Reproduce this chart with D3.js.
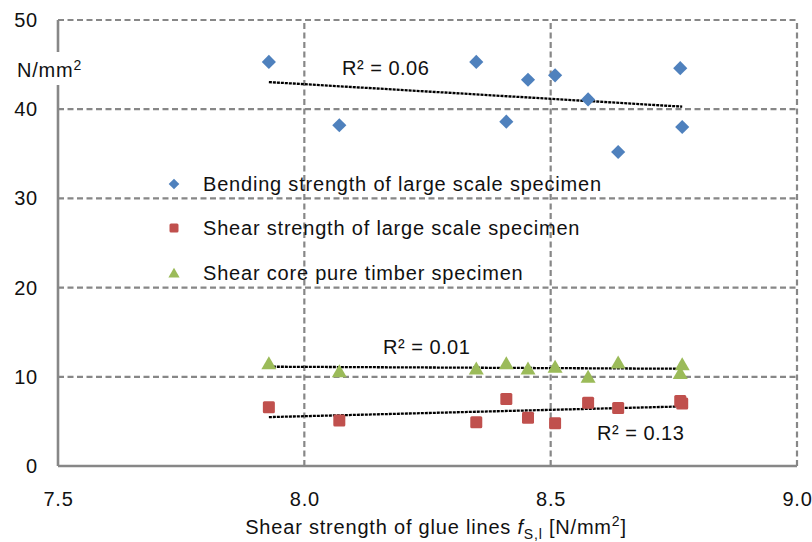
<!DOCTYPE html>
<html><head><meta charset="utf-8">
<script src="https://cdn.jsdelivr.net/npm/d3@7"></script>
<style>
html,body{margin:0;padding:0;background:#fff;}
svg{display:block;font-family:"Liberation Sans",Arial,sans-serif;}
</style></head>
<body><svg id="chart" width="812" height="542"></svg>
<script>
// ---- data ----
const glueStrength = [7.928, 8.071, 8.349, 8.410, 8.454, 8.509, 8.576, 8.637, 8.763, 8.767];
const bendingLarge = [45.3, 38.2, 45.3, 38.6, 43.3, 43.8, 41.1, 35.2, 44.6, 38.0];
const shearLarge   = [6.6, 5.1, 4.9, 7.5, 5.4, 4.8, 7.1, 6.5, 7.3, 7.0];
const shearCore    = [11.5, 10.6, 10.9, 11.5, 10.9, 11.1, 10.0, 11.6, 10.4, 11.4];
const seriesNames  = ["Bending strength of large scale specimen",
                      "Shear strength of large scale specimen",
                      "Shear core pure timber specimen"];
const seriesColors = ["#4F81BD", "#C0504D", "#9BBB59"];
const rSquared     = ["0.06", "0.13", "0.01"];
const xTicks = [7.5, 8.0, 8.5, 9.0];
const yTicks = [0, 10, 20, 30, 40, 50];

const svg = d3.select("#chart");
const x = d3.scaleLinear().domain([7.5, 9.0]).range([58, 797]);
const y = d3.scaleLinear().domain([0, 50]).range([466, 20]);
const grid = "#878787";
const FS = 20, LS = 0.8;

// gridlines
svg.append("g").selectAll("line").data(yTicks.filter(d => d > 0)).join("line")
  .attr("x1", x(7.5)).attr("x2", x(9.0)).attr("y1", d => y(d)).attr("y2", d => y(d))
  .attr("stroke", grid).attr("stroke-width", 2.2).attr("stroke-dasharray", "6,3.5");
svg.append("g").selectAll("line").data(xTicks.filter(d => d > 7.5)).join("line")
  .attr("x1", d => x(d)).attr("x2", d => x(d)).attr("y1", y(0)).attr("y2", y(50))
  .attr("stroke", grid).attr("stroke-width", 2.2).attr("stroke-dasharray", "6,3.5");

// axes lines
svg.append("line").attr("x1", x(7.5)).attr("x2", x(9.0)).attr("y1", y(0)).attr("y2", y(0))
  .attr("stroke", grid).attr("stroke-width", 2.6);
svg.append("line").attr("x1", x(7.5)).attr("x2", x(7.5)).attr("y1", y(0)).attr("y2", y(50))
  .attr("stroke", grid).attr("stroke-width", 2.6);

// axes labels via d3 axes (no tick lines / domain)
const yAxis = svg.append("g").attr("transform", `translate(${x(7.5)},0)`)
  .call(d3.axisLeft(y).tickValues(yTicks).tickFormat(d3.format("d")).tickSize(0).tickPadding(20));
const xAxis = svg.append("g").attr("transform", `translate(0,${y(0)})`)
  .call(d3.axisBottom(x).tickValues(xTicks).tickFormat(d3.format(".1f")).tickSize(0).tickPadding(26));
[yAxis, xAxis].forEach(a => {
  a.select(".domain").remove();
  a.selectAll("text").attr("font-family", "Liberation Sans, Arial, sans-serif")
   .attr("font-size", FS).attr("letter-spacing", LS).attr("fill", "#111");
});

// unit label on y axis (white box breaks the axis line)
svg.append("rect").attr("x", 14).attr("y", 52).attr("width", 76).attr("height", 33).attr("fill", "#fff");
const unit = svg.append("text").attr("x", 17).attr("y", 77).attr("font-size", FS)
  .attr("letter-spacing", LS).attr("fill", "#111");
unit.append("tspan").text("N/mm");
unit.append("tspan").attr("font-size", 14).attr("dy", -7).text("2");

// x title
const xt = svg.append("text").attr("x", 436).attr("y", 534).attr("text-anchor", "middle")
  .attr("font-size", FS).attr("letter-spacing", LS).attr("fill", "#111");
xt.append("tspan").text("Shear strength of glue lines ");
xt.append("tspan").attr("font-style", "italic").text("f");
xt.append("tspan").attr("font-size", 14).attr("dy", 5).text("S,l");
xt.append("tspan").attr("dy", -5).text(" [N/mm");
xt.append("tspan").attr("font-size", 14).attr("dy", -8).text("2");
xt.append("tspan").attr("dy", 8).text("]");

// trendlines (least squares fit of each series)
function fit(xs, ys) {
  const mx = d3.mean(xs), my = d3.mean(ys);
  const b = d3.sum(xs, (v, i) => (v - mx) * (ys[i] - my)) / d3.sum(xs, v => (v - mx) ** 2);
  return v => my + b * (v - mx);
}
const allSeries = [bendingLarge, shearLarge, shearCore];
const xmin = d3.min(glueStrength), xmax = d3.max(glueStrength);
const line = d3.line().x(d => x(d[0])).y(d => y(d[1]));
allSeries.forEach(s => {
  const f = fit(glueStrength, s);
  svg.append("path").attr("d", line([[xmin, f(xmin)], [xmax, f(xmax)]]))
    .attr("fill", "none").attr("stroke", "#000").attr("stroke-width", 2.3)
    .attr("stroke-dasharray", "3,1");
});

// markers
function drawMarker(g, type, color, cx, cy, scale) {
  if (type === 0) {
    g.append("rect").attr("x", -5 * scale).attr("y", -5 * scale).attr("width", 10 * scale).attr("height", 10 * scale)
      .attr("transform", `translate(${cx},${cy}) rotate(45)`).attr("fill", color);
  } else if (type === 1) {
    g.append("rect").attr("x", cx - 6 * scale).attr("y", cy - 6 * scale).attr("width", 12 * scale).attr("height", 12 * scale)
      .attr("rx", 1.5).attr("fill", color);
  } else {
    const h = 13 * scale, w = 15 * scale;
    g.append("path").attr("d", `M${cx},${cy - h * 0.55}L${cx + w / 2},${cy + h * 0.45}L${cx - w / 2},${cy + h * 0.45}Z`)
      .attr("fill", color);
  }
}
const marks = svg.append("g");
[2, 1, 0].forEach(si => {
  allSeries[si].forEach((v, i) => drawMarker(marks, si, seriesColors[si], x(glueStrength[i]), y(v), 1));
});

// R² labels
const rPos = [[342, 75], [597, 440], [383, 354]];
rSquared.forEach((r, i) => {
  svg.append("text").attr("x", rPos[i][0]).attr("y", rPos[i][1]).attr("font-size", FS)
    .attr("letter-spacing", 0.5).attr("fill", "#111")
    .text(`R² = ${r}`);
});

// legend
const leg = svg.append("g");
const legY = [184, 228, 273];
seriesNames.forEach((n, i) => {
  drawMarker(leg, i, seriesColors[i], 174, legY[i], 0.75);
  leg.append("text").attr("x", 203).attr("y", legY[i] + 7).attr("font-size", FS)
    .attr("letter-spacing", LS).attr("fill", "#111").text(n);
});
</script></body></html>
